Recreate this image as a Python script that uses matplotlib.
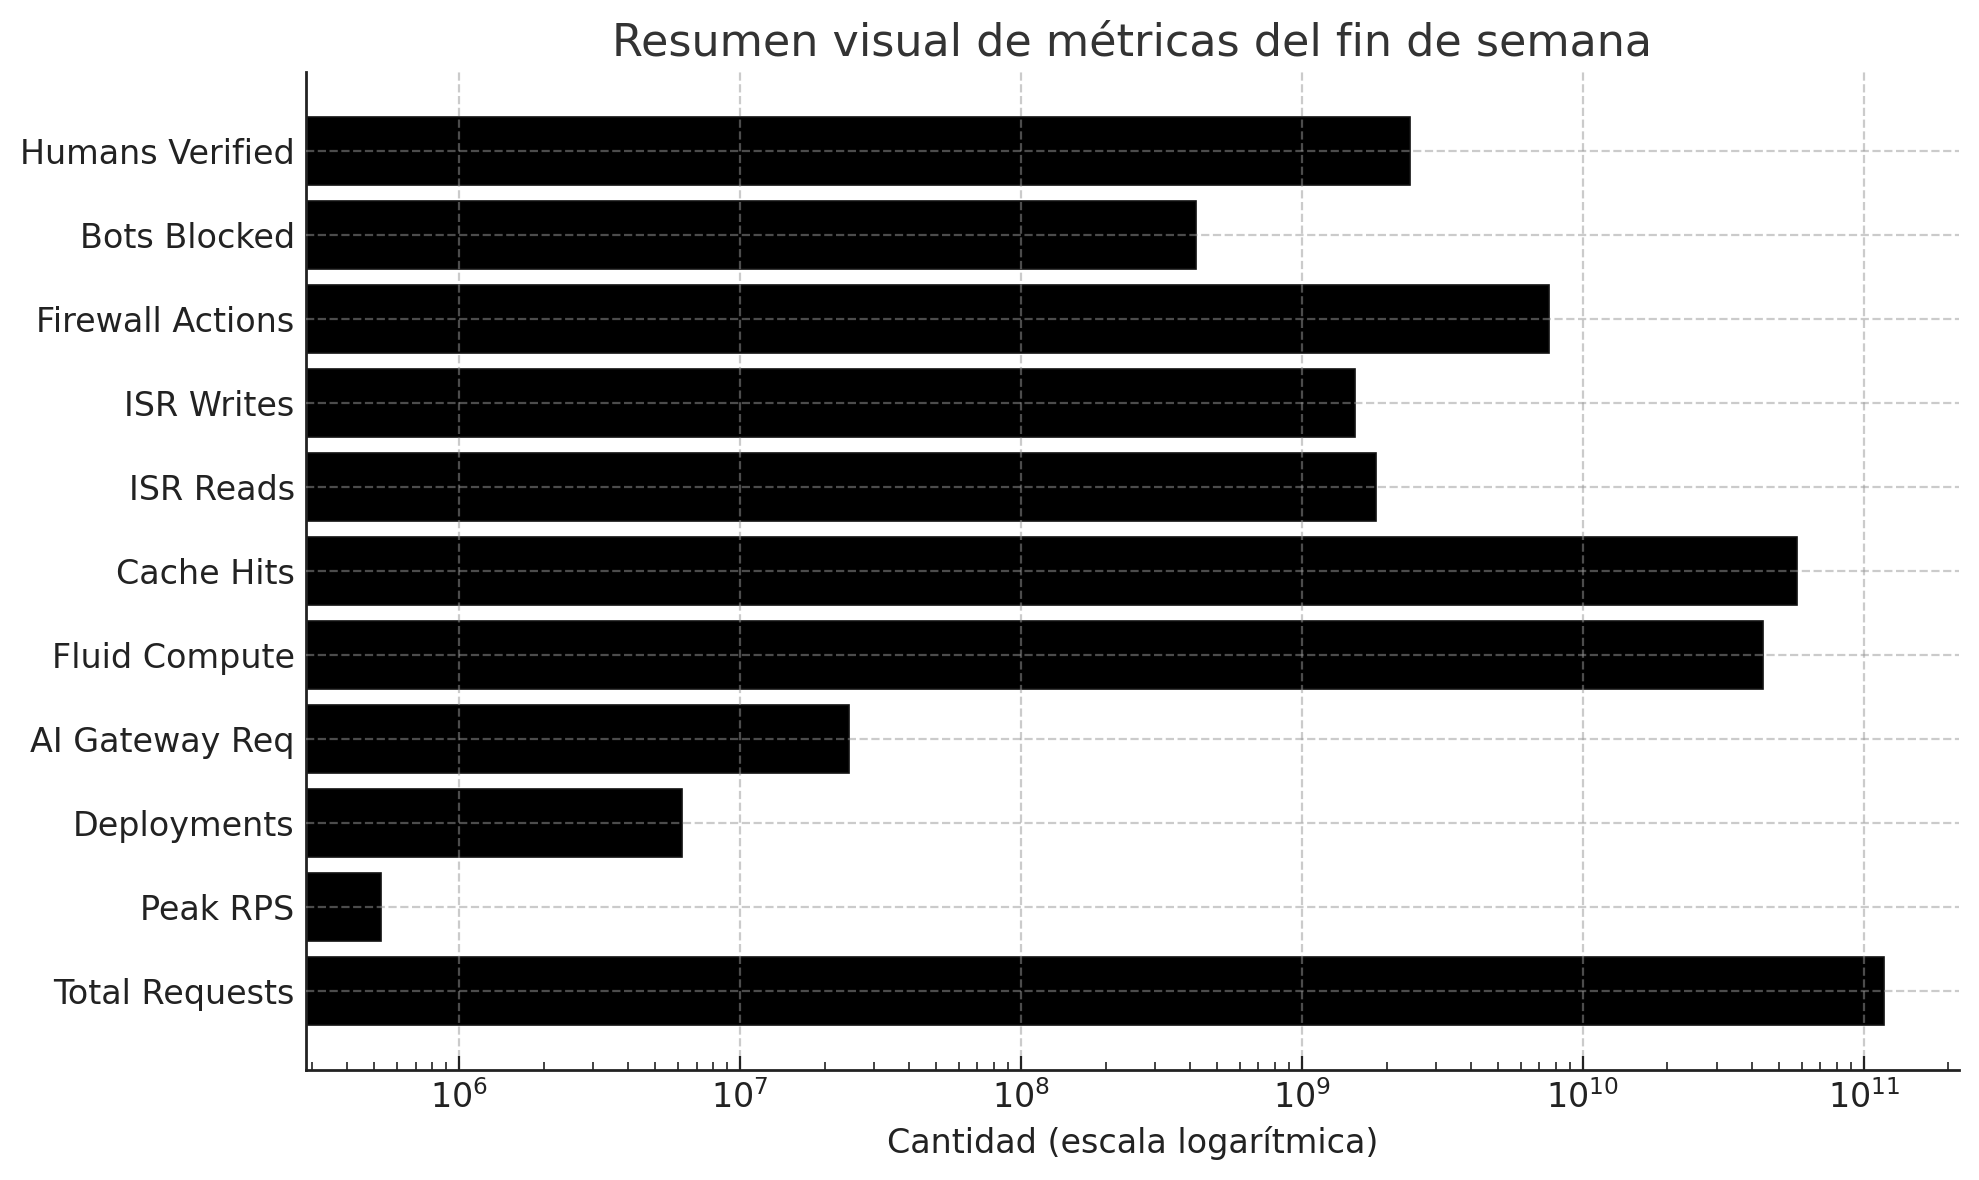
import matplotlib
matplotlib.use('Agg')
import matplotlib.pyplot as plt
import numpy as np

# Weekend metrics
categories = ['Total Requests', 'Peak RPS', 'Deployments', 'AI Gateway Req',
              'Fluid Compute', 'Cache Hits', 'ISR Reads', 'ISR Writes',
              'Firewall Actions', 'Bots Blocked', 'Humans Verified']
values = [1.18e11, 5.27e5, 6.22e6, 2.45e7,
          4.37e10, 5.78e10, 1.84e9, 1.54e9,
          7.57e9, 4.2e8, 2.43e9]

title = 'Resumen visual de métricas del fin de semana'
xlabel = 'Cantidad (escala logarítmica)'

plt.rcParams['font.family'] = ['DejaVu Sans']

fig = plt.figure(figsize=(9.895, 5.9), dpi=200)
ax = fig.add_axes([0.1545, 0.0932, 0.8355, 0.8458])

ypos = np.arange(len(categories))
ax.barh(ypos, values, height=0.8, color='black', edgecolor='#111111',
        linewidth=0.6)
ax.set_xscale('log')
ax.set_yticks(ypos)
ax.set_yticklabels(categories)

ax.grid(True, which='major', linestyle='--', color='#999999', alpha=0.5,
        linewidth=0.8)
ax.set_axisbelow(False)

for s in ['top', 'right']:
    ax.spines[s].set_visible(False)
for s in ['left', 'bottom']:
    ax.spines[s].set_color('#222222')
    ax.spines[s].set_linewidth(1.0)

ax.tick_params(axis='both', which='major', direction='in', length=5,
               labelsize=12, labelcolor='#222222', color='#222222')
ax.tick_params(axis='x', which='minor', direction='in', length=3,
               color='#222222')
ax.tick_params(axis='y', which='major', length=0, pad=4)

ax.set_title(title, fontsize=16, color='#333333', pad=6)
ax.set_xlabel(xlabel, fontsize=12, color='#222222', labelpad=4)

fig.savefig('out.png', dpi=200)
